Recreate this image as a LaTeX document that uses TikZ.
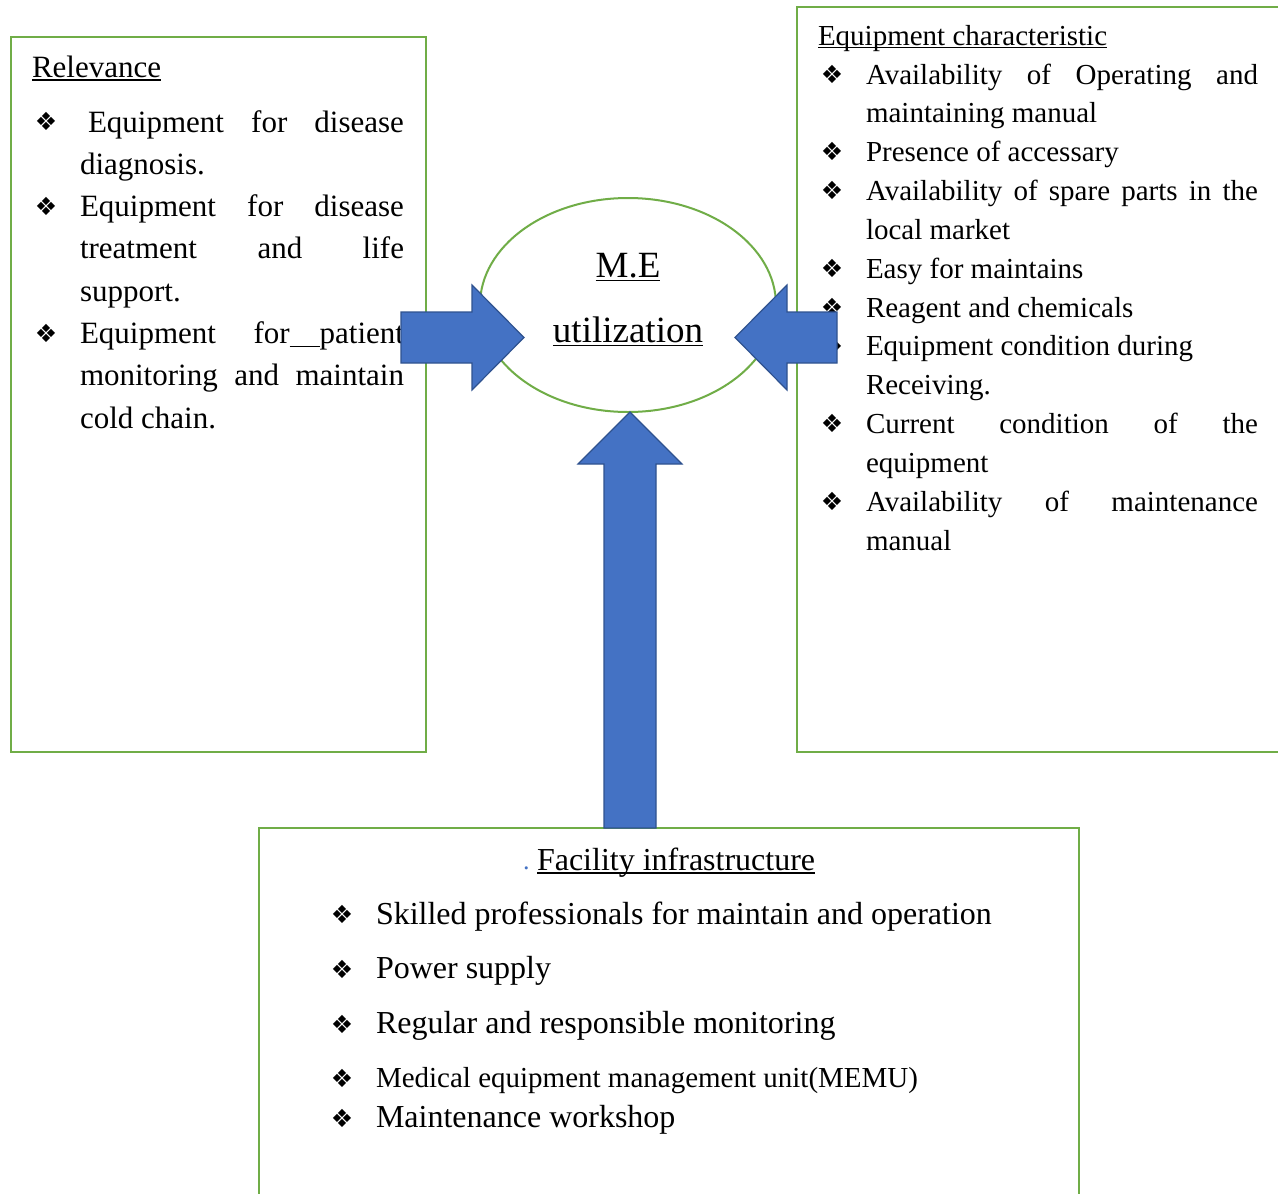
\documentclass[tikz,border=0pt]{standalone}
\usepackage{fontspec}
\setmainfont{Liberation Serif}
\newfontfamily\bulletfont{DejaVu Sans}
\usetikzlibrary{shapes.geometric}
\definecolor{boxgreen}{HTML}{70AD47}
\definecolor{arrowblue}{HTML}{4472C4}
\definecolor{arrowline}{HTML}{2F528F}
\tikzstyle{box}=[draw=boxgreen, line width=2.5pt]
\tikzstyle{textline}=[anchor=base west, inner sep=0pt, outer sep=0pt]
\tikzstyle{bullet}=[anchor=center, inner sep=0pt, font=\bulletfont\fontsize{25}{25}\selectfont]
\tikzstyle{blockarrow}=[fill=arrowblue, draw=arrowline, line width=1.2pt, line join=miter]
\newcommand{\relfont}{\fontsize{31}{31}\selectfont}
\newcommand{\charfont}{\fontsize{29}{29}\selectfont}
\newcommand{\facfont}{\fontsize{32}{32}\selectfont}
\newcommand{\memufont}{\fontsize{29}{29}\selectfont}
\newcommand{\mefont}{\fontsize{37}{37}\selectfont}
\newcommand{\just}[2]{\makebox[#1][s]{#2}}
\newcommand{\wul}[1]{\setbox0\hbox{#1}\rlap{\rule[-0.12em]{\wd0}{0.05em}}\box0}

\begin{document}
\begin{tikzpicture}[x=1pt, y=-1pt]
\clip (0,0) rectangle (1278,1194);
\fill[white] (0,0) rectangle (1278,1194);

% boxes
\draw[box] (11,37) rectangle (426,752);
\draw[box] (797,7) rectangle (1290,752);
\draw[box] (259,828) rectangle (1079,1210);
\node[draw=boxgreen, line width=2pt, ellipse, minimum width=296pt, minimum height=214pt] (me) at (628,305) {};

% centre
\node[anchor=base, inner sep=0pt, font=\mefont] (me1) at (628,277) {\wul{M.E}};
\node[anchor=base, inner sep=0pt, font=\mefont] (me2) at (628,342) {\wul{utilization}};

% relevance
\node[textline, font=\relfont] (relhead) at (32,77) {\wul{Relevance}};
\foreach \lbl [count=\i] in {
  {\just{324pt}{\hspace{8pt}Equipment for disease}},
  {diagnosis.},
  {\just{324pt}{Equipment for disease}},
  {\just{324pt}{treatment and life}},
  {support.},
  {\just{324pt}{Equipment for\wul{\hspace{30pt}}patient}},
  {\just{324pt}{monitoring and maintain}},
  {cold chain.}}
  \node[textline, font=\relfont] (rel\i) at (80,{132+42.3*(\i-1)}) {\lbl};
\foreach \y [count=\i] in {121,206,333}
  \node[bullet] (relb\i) at (46,\y) {❖};

% equipment characteristic
\node[textline, font=\charfont] (charhead) at (818,45) {\wul{Equipment characteristic}};
\foreach \lbl [count=\i] in {
  {\just{392pt}{Availability of Operating and}},
  {maintaining manual},
  {Presence of accessary},
  {\just{392pt}{Availability of spare parts in the}},
  {local market},
  {Easy for maintains},
  {Reagent and chemicals},
  {Equipment condition during},
  {Receiving.},
  {\just{392pt}{Current condition of the}},
  {equipment},
  {\just{392pt}{Availability of maintenance}},
  {manual}}
  \node[textline, font=\charfont] (char\i) at (866,{84+38.85*(\i-1)}) {\lbl};
\foreach \y [count=\i] in {74,151,190,268,307,346,423,501}
  \node[bullet] (charb\i) at (832,\y) {❖};

% facility infrastructure
\node[textline, text=arrowblue] (facdot) at (523,869) {\fontsize{26}{26}\selectfont .};
\node[textline, font=\facfont] (fachead) at (537,870) {\wul{Facility infrastructure}};
\node[textline, font=\facfont] (fac1) at (376,924) {Skilled professionals for maintain and operation};
\node[textline, font=\facfont] (fac2) at (376,978) {Power supply};
\node[textline, font=\facfont] (fac3) at (376,1033) {Regular and responsible monitoring};
\node[textline, font=\memufont] (fac4) at (376,1087) {Medical equipment management unit(MEMU)};
\node[textline, font=\facfont] (fac5) at (376,1127) {Maintenance workshop};
\foreach \y [count=\i] in {914,969,1024,1078,1118}
  \node[bullet] (facb\i) at (342,\y) {❖};

% arrows
\draw[blockarrow] (401,312) -- (472,312) -- (472,285) -- (524,337.5) -- (472,390) -- (472,363) -- (401,363) -- cycle;
\draw[blockarrow] (837,312) -- (787,312) -- (787,285) -- (735,337.5) -- (787,390) -- (787,363) -- (837,363) -- cycle;
\draw[blockarrow] (604,828) -- (604,464) -- (578,464) -- (630,412) -- (682,464) -- (656,464) -- (656,828) -- cycle;
\end{tikzpicture}
\end{document}
